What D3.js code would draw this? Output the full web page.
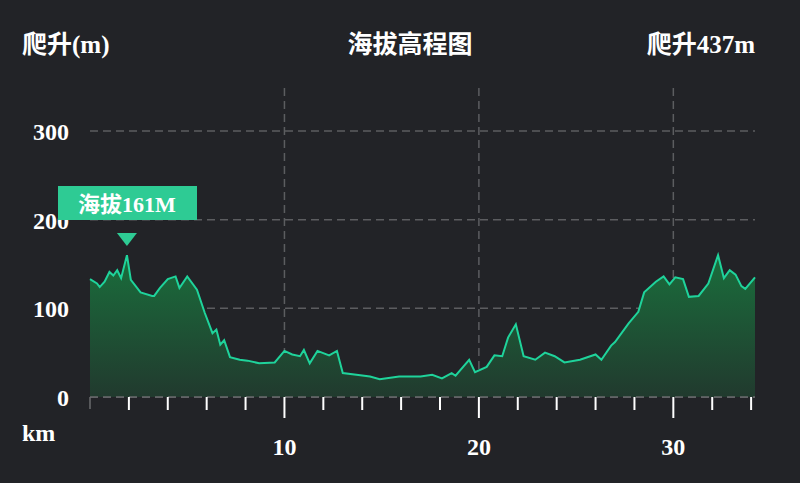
<!DOCTYPE html>
<html>
<head>
<meta charset="utf-8">
<script src="https://cdn.jsdelivr.net/npm/d3@7"></script>
<style>
  body { margin: 0; background: #222327; }
  text { font-family: "Liberation Serif", "Noto Sans CJK SC", serif; fill: #fff; font-weight: bold; }
</style>
</head>
<body>
<svg id="chart" width="800" height="483"></svg>
<script>
// distance (km) and elevation (m)
var km = [0, 0.36, 0.5, 0.75, 1.0, 1.2, 1.4, 1.6, 1.9, 2.1, 2.6, 3.2, 3.3, 3.6, 4.0, 4.4, 4.6, 5.0, 5.5, 5.9, 6.3, 6.5, 6.7, 6.9, 7.2, 7.7, 8.1, 8.7, 9.5,
  10, 10.4, 10.8, 11.0, 11.3, 11.7, 12.3, 12.7, 13.0, 13.7, 14.4, 14.9, 15.9, 17, 17.6, 18.1, 18.6, 18.8, 19.5, 19.8, 20.4, 20.8, 21.2, 21.5, 21.9,
  22.3, 22.9, 23.4, 23.9, 24.4, 25.2, 26.0, 26.3, 26.8, 27, 27.7, 28.2, 28.5, 29.1, 29.5, 29.8, 30.1, 30.5, 30.8, 31.3, 31.8, 32.3, 32.6,
  32.9, 33.2, 33.5, 33.7, 34.2];
var elev = [133, 128, 124, 130, 141, 137, 143, 134, 160, 132, 118, 114, 114, 123, 133, 136, 123, 136, 121, 95, 72, 76, 59, 64, 45, 42, 41, 38, 39,
  52, 48, 46, 53, 38, 52, 47, 52, 27, 25, 23, 20, 23, 23, 25, 21, 27, 24, 42, 28, 34, 47, 46, 67, 82,
  46, 42, 50, 46, 39, 42, 48, 42, 58, 62, 83, 96, 118, 130, 136, 127, 135, 133, 113, 114, 128, 160, 134,
  143, 138, 125, 122, 135];
var yTicks = [0, 100, 200, 300];
var xLabels = [10, 20, 30];
var peakKm = 1.9, peakElev = 161;

var svg = d3.select('#chart');
var x = d3.scaleLinear().domain([0, 34.2]).range([90, 755]);
var y = d3.scaleLinear().domain([0, 300]).range([397, 131]);
var pts = km.map(function(k, i) { return [k, elev[i]]; });

// gradient
var grad = svg.append('defs').append('linearGradient').attr('id', 'g')
  .attr('x1', 0).attr('y1', 0).attr('x2', 0).attr('y2', 1);
grad.append('stop').attr('offset', '0%').attr('stop-color', '#1a6e3c');
grad.append('stop').attr('offset', '100%').attr('stop-color', '#213a2e');

// grid
svg.selectAll('.hg').data(yTicks).enter().append('line')
  .attr('x1', 90).attr('x2', 755).attr('y1', d => y(d)).attr('y2', d => y(d))
  .attr('stroke', '#5c5d60').attr('stroke-width', 1.5).attr('stroke-dasharray', '8,5');
svg.selectAll('.vg').data(xLabels).enter().append('line')
  .attr('x1', d => x(d)).attr('x2', d => x(d)).attr('y1', 88).attr('y2', 397)
  .attr('stroke', '#5c5d60').attr('stroke-width', 1.5).attr('stroke-dasharray', '8,5');

// area + line
svg.append('path').datum(pts)
  .attr('d', d3.area().x(d => x(d[0])).y0(y(0)).y1(d => y(d[1])))
  .attr('fill', 'url(#g)');
svg.append('path').datum(pts)
  .attr('d', d3.line().x(d => x(d[0])).y(d => y(d[1])))
  .attr('fill', 'none').attr('stroke', '#1fd39b').attr('stroke-width', 2);

// x axis ticks
svg.append('line').attr('x1', 90).attr('x2', 755).attr('y1', 397).attr('y2', 397)
  .attr('stroke', '#6a6b6e').attr('stroke-width', 1.5).attr('stroke-dasharray', '8,5');
svg.append('line').attr('x1', 90).attr('x2', 90).attr('y1', 397).attr('y2', 409)
  .attr('stroke', '#6a6b6e').attr('stroke-width', 1.5);
svg.selectAll('.tk').data(d3.range(2, 35, 2)).enter().append('line')
  .attr('x1', d => x(d)).attr('x2', d => x(d)).attr('y1', 397)
  .attr('y2', d => d % 10 === 0 ? 418 : 410)
  .attr('stroke', '#fff').attr('stroke-width', 2);
svg.selectAll('.xl').data(xLabels).enter().append('text')
  .attr('x', d => x(d)).attr('y', 455).attr('text-anchor', 'middle')
  .attr('font-size', 24).text(d => d);
svg.selectAll('.yl').data(yTicks).enter().append('text')
  .attr('x', 69).attr('y', d => y(d) + 9).attr('text-anchor', 'end')
  .attr('font-size', 24).text(d => d);
svg.append('text').attr('x', 22).attr('y', 441).attr('font-size', 24).text('km');

// header
svg.append('text').attr('x', 22).attr('y', 53).attr('font-size', 25).text('爬升(m)');
svg.append('text').attr('x', 410).attr('y', 53).attr('text-anchor', 'middle').attr('font-size', 25).text('海拔高程图');
svg.append('text').attr('x', 755).attr('y', 53).attr('text-anchor', 'end').attr('font-size', 25).text('爬升437m');

// tooltip
var px = x(peakKm);
svg.append('rect').attr('x', 58).attr('y', 186).attr('width', 139).attr('height', 34).attr('fill', '#2ecb94');
svg.append('text').attr('x', 127).attr('y', 212).attr('text-anchor', 'middle').attr('font-size', 22).text('海拔' + peakElev + 'M');
svg.append('path').attr('d', 'M' + (px - 10) + ',233L' + (px + 10) + ',233L' + px + ',246Z').attr('fill', '#2ecb94');
</script>
</body>
</html>
